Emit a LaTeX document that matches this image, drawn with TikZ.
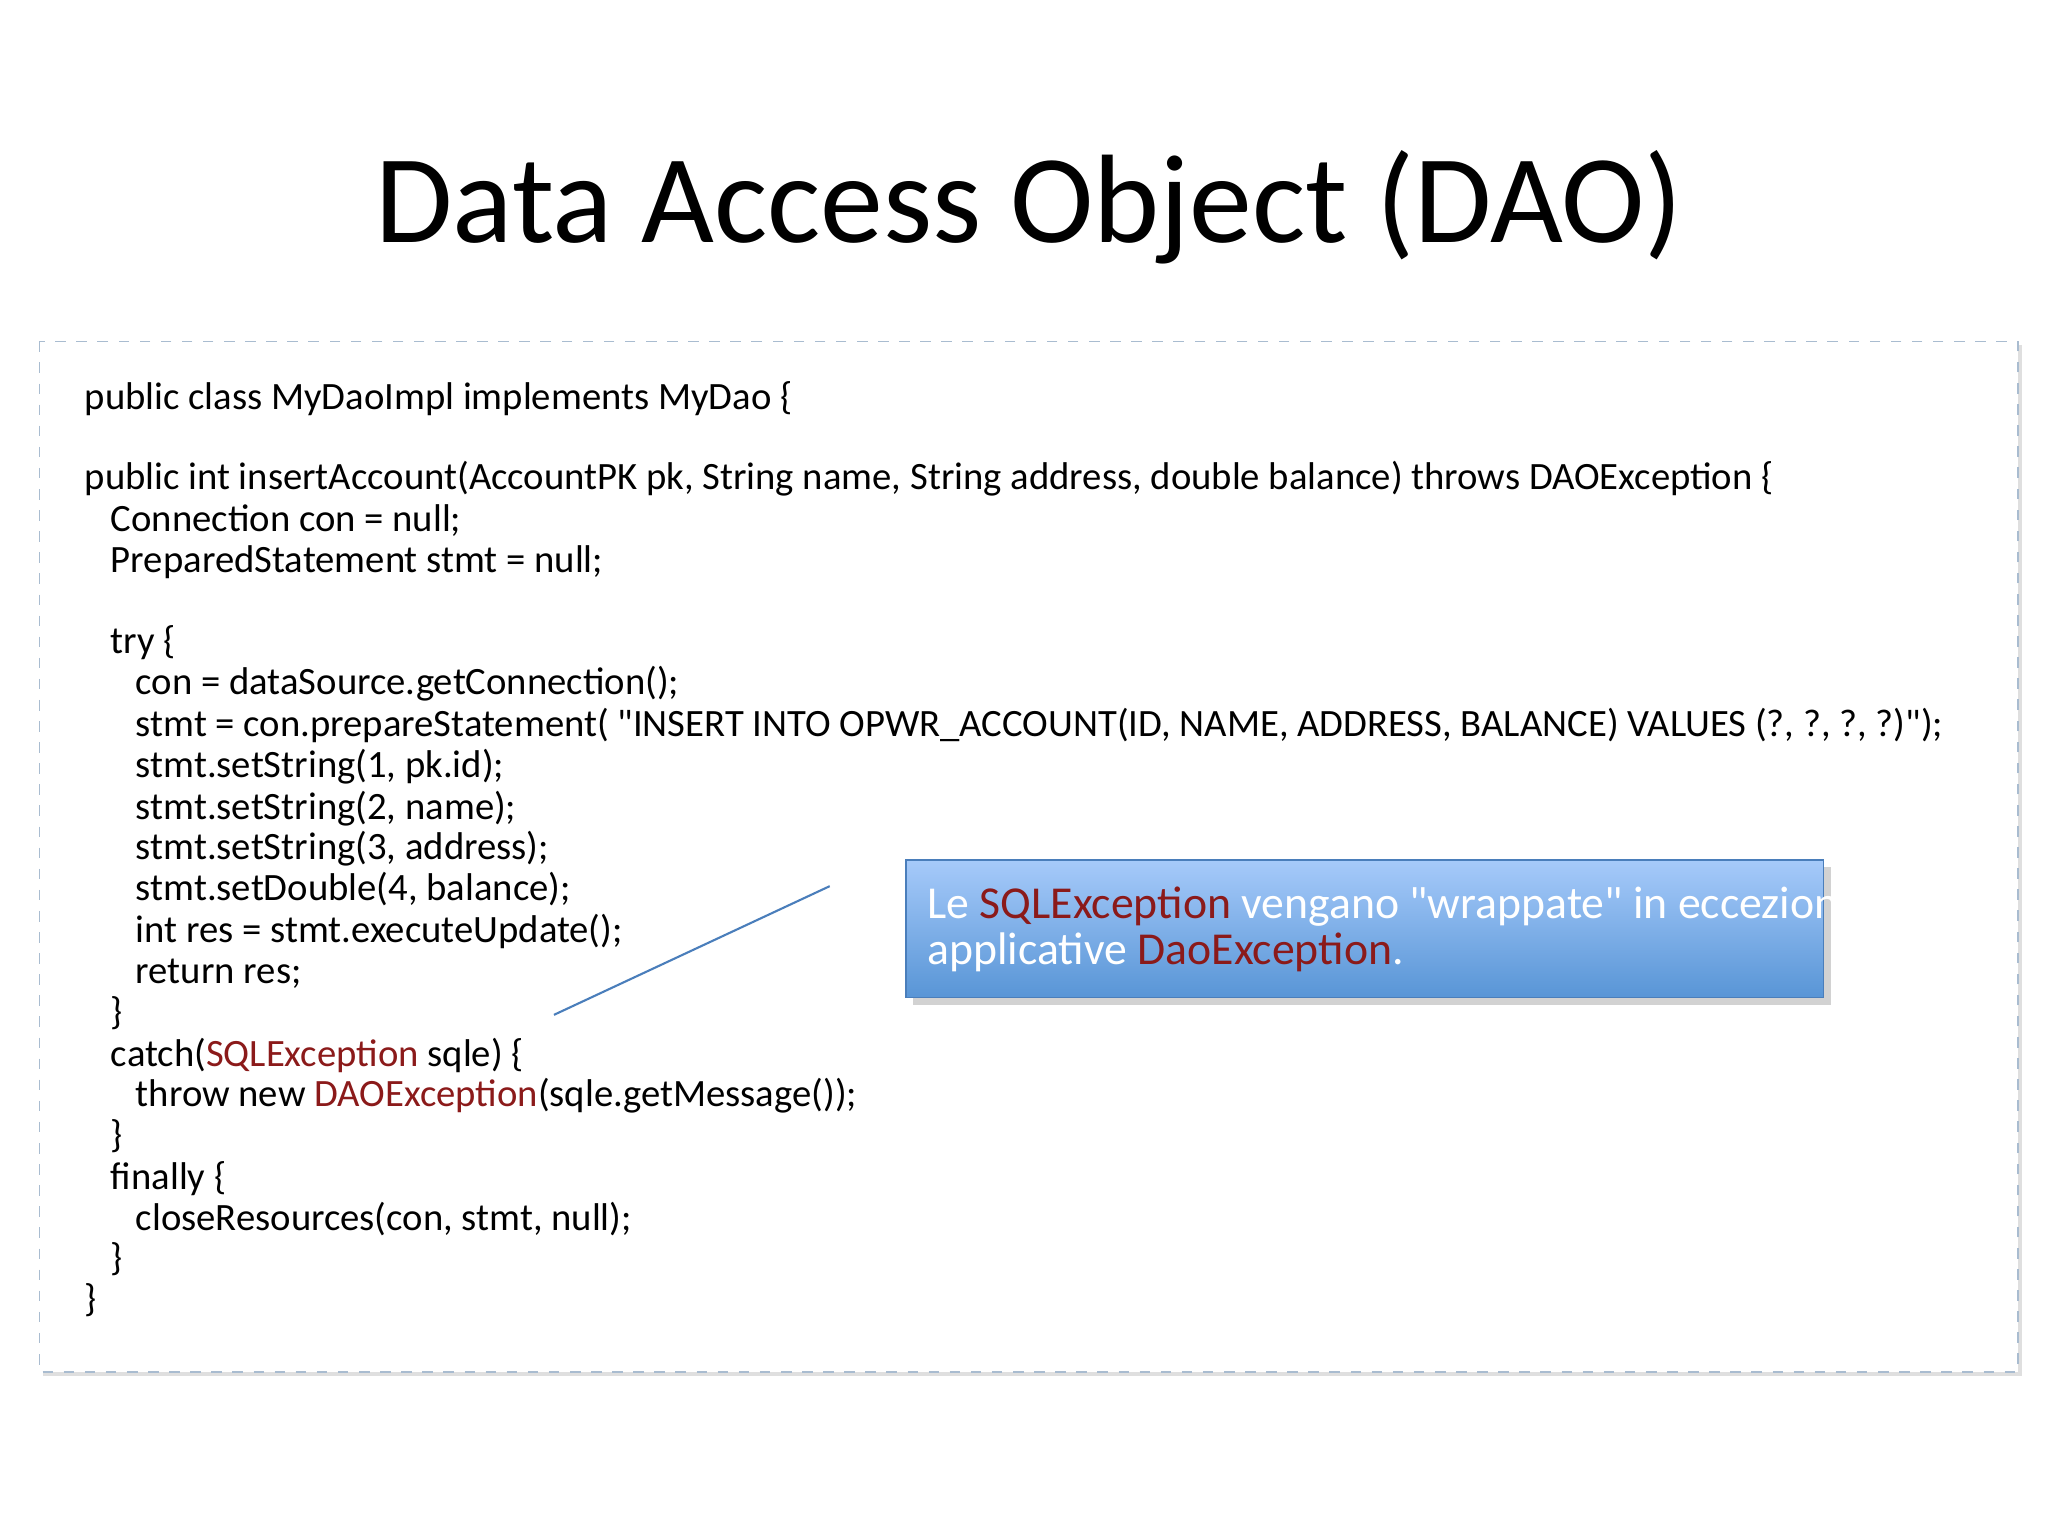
\documentclass[tikz,border=0pt]{standalone}
\usepackage{fontspec}
\setmainfont{Carlito}
\usetikzlibrary{shadows}
\definecolor{exred}{HTML}{8B1A1A}
\definecolor{framec}{HTML}{A9BCD0}
\definecolor{notetop}{HTML}{A6CAFA}
\definecolor{notebot}{HTML}{5895D6}
\definecolor{noteline}{HTML}{4A7EBB}
\begin{document}
\begin{tikzpicture}[x=0.01313cm,y=-0.01313cm]
    \tikzstyle{every node} = [inner sep=0pt]
    \tikzstyle{code} = [anchor=base west, font=\fontsize{11}{13}\selectfont]
    \tikzstyle{note} = [draw=noteline, top color=notetop, bottom color=notebot, drop shadow={opacity=0.35,shadow xshift=2pt,shadow yshift=-2pt}]
    \useasboundingbox (0,0) rectangle (1560,1170);
    % title
    \node[anchor=base, font=\fontsize{35.8}{40}\selectfont](title) at (784,185){Data Access Object (DAO)};
    % code frame
    \fill[gray!25] (33,263) rectangle (1540,1048);
    \draw[framec, dashed, fill=white] (30,260) rectangle (1537,1045);
    % code lines
    \node[code](l1) at (64,312){public class MyDaoImpl implements MyDao \{};
    \node[code](l2) at (64,373){public int insertAccount(AccountPK pk, String name, String address, double balance) throws DAOException \{};
    \node[code](l3) at (84,405){Connection con = null;};
    \node[code](l4) at (84,436){PreparedStatement stmt = null;};
    \node[code](l5) at (84,498){try \{};
    \node[code](l6) at (103,529){con = dataSource.getConnection();};
    \node[code](l7) at (103,561){stmt = con.prepareStatement( \textquotedbl INSERT INTO OPWR\_ACCOUNT(ID, NAME, ADDRESS, BALANCE) VALUES (?, ?, ?, ?)\textquotedbl);};
    \node[code](l8) at (103,592){stmt.setString(1, pk.id);};
    \node[code](l9) at (103,624){stmt.setString(2, name);};
    \node[code](l10) at (103,655){stmt.setString(3, address);};
    \node[code](l11) at (103,686){stmt.setDouble(4, balance);};
    \node[code](l12) at (103,718){int res = stmt.executeUpdate();};
    \node[code](l13) at (103,749){return res;};
    \node[code](l14) at (84,780){\}};
    \node[code](l15) at (84,812){catch(\textcolor{exred}{SQLException} sqle) \{};
    \node[code](l16) at (103,843){throw new \textcolor{exred}{DAOException}(sqle.getMessage());};
    \node[code](l17) at (84,874){\}};
    \node[code](l18) at (84,906){finally \{};
    \node[code](l19) at (103,937){closeResources(con, stmt, null);};
    \node[code](l20) at (84,968){\}};
    \node[code](l21) at (64,999){\}};
    % callout
    \draw[note] (690,655) rectangle (1389,760);
    \node[code, text=white, font=\fontsize{13}{16}\selectfont](note1) at (706,700){Le \textcolor{exred}{SQLException} vengano \textquotedbl wrappate\textquotedbl{} in eccezioni};
    \node[code, text=white, font=\fontsize{13}{16}\selectfont](note2) at (706,735){applicative \textcolor{exred}{DaoException}.};
    \coordinate (lineA) at (422,773);
    \coordinate (lineB) at (632,675);
    \draw[noteline, semithick] (lineA) -- (lineB);
\end{tikzpicture}
\end{document}
